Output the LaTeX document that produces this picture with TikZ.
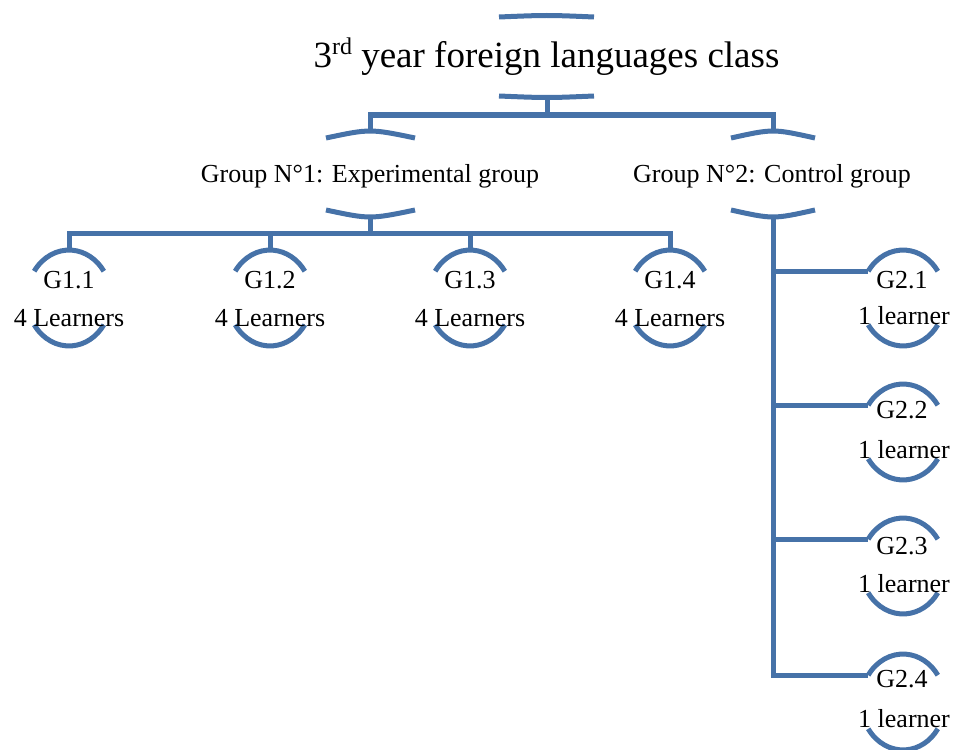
\documentclass[tikz,border=0pt]{standalone}
\usepackage{fontspec}
\setmainfont{Liberation Serif}
\definecolor{sa}{RGB}{70,114,168}
\begin{document}
\begin{tikzpicture}[x=1pt,y=-1pt,
  ln/.style={draw=sa,line width=5pt},
  lbl/.style={inner sep=0pt,anchor=base,font=\fontsize{26}{30}\selectfont},
  ttl/.style={inner sep=0pt,anchor=base,font=\fontsize{37}{44}\selectfont},
  ring/.pic={
    \draw[ln] (-34.8,-26.8) arc[start angle=146,end angle=34,x radius=42pt,y radius=48pt];
    \draw[ln] (-34.8,26.8) arc[start angle=214,end angle=326,x radius=42pt,y radius=48pt];
  }]
\useasboundingbox (0,0) rectangle (957,749);

% top bracket
\draw[ln] (499,17) .. controls (547,15) .. (594,17);
\draw[ln] (499,96) .. controls (547,98) .. (594,96);
% group brackets
\draw[ln] (326,138) .. controls (370,128.7) .. (415,138);
\draw[ln] (326,210) .. controls (370,219.3) .. (415,210);
\draw[ln] (731,138) .. controls (773,128.7) .. (815,138);
\draw[ln] (731,210) .. controls (773,219.3) .. (815,210);

% child rings
\pic at (69,298) {ring};
\pic at (270,298) {ring};
\pic at (470,298) {ring};
\pic at (670,298) {ring};
\pic at (903,298) {ring};
\pic at (903,432) {ring};
\pic at (903,566) {ring};
\pic at (903,702) {ring};

% anchor coordinates
\coordinate (topB) at (547,97);
\coordinate (bus0) at (547,115);
\coordinate (g1T) at (370,131);
\coordinate (g2T) at (773,131);
\coordinate (g1B) at (370,217);
\coordinate (g2B) at (773,217);
\coordinate (bus1) at (370,233);
\coordinate (c11T) at (69,250);
\coordinate (c12T) at (270,250);
\coordinate (c13T) at (470,250);
\coordinate (c14T) at (670,250);
\coordinate (c21L) at (868.2,271.2);
\coordinate (c22L) at (868.2,405.2);
\coordinate (c23L) at (868.2,539.2);
\coordinate (c24L) at (868.2,675.2);

% connectors
\draw[ln] (topB) -- (bus0);
\draw[ln] (g1T) |- (bus0) -| (g2T);
\draw[ln] (g1B) -- (bus1);
\draw[ln] (c11T) |- (bus1) -| (c14T);
\draw[ln] (c12T) -- (c12T |- bus1);
\draw[ln] (c13T) -- (c13T |- bus1);
\draw[ln] (g2B) |- (c21L);
\draw[ln] (g2B) |- (c22L);
\draw[ln] (g2B) |- (c23L);
\draw[ln] (g2B) |- (c24L);

% texts
\node[ttl] (top) at (546.5,68) {3\raisebox{13pt}{\fontsize{24}{24}\selectfont rd} year foreign languages class};
\node[lbl] (g1) at (370,182) {Group N°1: Experimental group};
\node[lbl] (g2) at (772,182) {Group N°2: Control group};
\node[lbl] (c11) at (69,288) {G1.1};
\node[lbl] (c11b) at (69,326) {4 Learners};
\node[lbl] (c12) at (270,288) {G1.2};
\node[lbl] (c12b) at (270,326) {4 Learners};
\node[lbl] (c13) at (470,288) {G1.3};
\node[lbl] (c13b) at (470,326) {4 Learners};
\node[lbl] (c14) at (670,288) {G1.4};
\node[lbl] (c14b) at (670,326) {4 Learners};
\node[lbl] (c21) at (902,288) {G2.1};
\node[lbl] (c21b) at (904,324) {1 learner};
\node[lbl] (c22) at (902,418) {G2.2};
\node[lbl] (c22b) at (904,458) {1 learner};
\node[lbl] (c23) at (902,554) {G2.3};
\node[lbl] (c23b) at (904,592) {1 learner};
\node[lbl] (c24) at (902,687) {G2.4};
\node[lbl] (c24b) at (904,727) {1 learner};
\end{tikzpicture}
\end{document}
